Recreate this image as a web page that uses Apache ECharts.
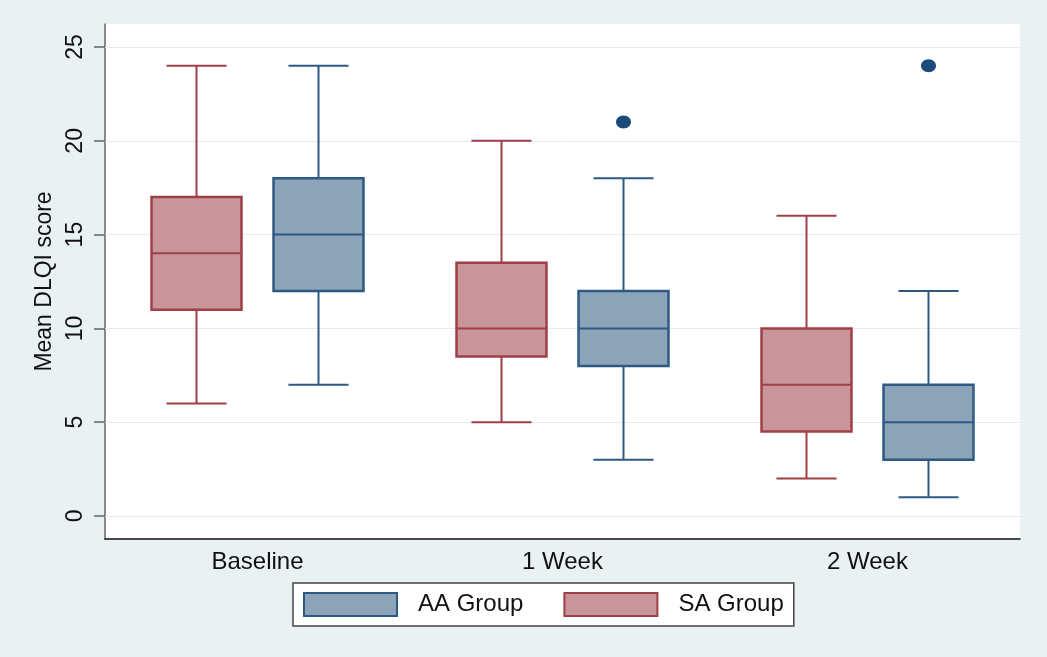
<!DOCTYPE html>
<html>
<head>
<meta charset="utf-8">
<script src="https://cdn.jsdelivr.net/npm/echarts@6/dist/echarts.min.js"></script>
<style>
html,body{margin:0;padding:0;background:#E9F1F2;}
#c{width:1047px;height:657px;}
</style>
</head>
<body>
<div id="c"></div>
<script>
var categories = ['Baseline', '1 Week', '2 Week'];
// [low whisker, Q1, median, Q3, high whisker]
var saGroup = [[6, 11, 14, 17, 24], [5, 8.5, 10, 13.5, 20], [2, 4.5, 7, 10, 16]];
var aaGroup = [[7, 12, 15, 18, 24], [3, 8, 10, 12, 18], [1, 3, 5, 7, 12]];
// outliers: [category index, value]
var aaOutliers = [[1, 21], [2, 24]];
var yTicks = [0, 5, 10, 15, 20, 25];

var FONT = 'Liberation Sans, Arial, sans-serif';
var SA_FILL = '#C8969A', SA_LINE = '#A03F48';
var AA_FILL = '#8DA3B7', AA_LINE = '#2D5985';
var OUT_COLOR = '#1B4B7A';

function boxRender(offsetFrac, fill, line) {
  return function (params, api) {
    var cat = api.value(0);
    var band = api.size([1, 0])[0];
    var off = band * offsetFrac;
    var bw = band * 0.295, cw = band * 0.197;
    var pLow = api.coord([cat, api.value(1)]);
    var pQ1 = api.coord([cat, api.value(2)]);
    var pMed = api.coord([cat, api.value(3)]);
    var pQ3 = api.coord([cat, api.value(4)]);
    var pHigh = api.coord([cat, api.value(5)]);
    var cx = pLow[0] + off;
    var ls = {stroke: line, lineWidth: 2};
    return {
      type: 'group',
      children: [
        {type: 'line', shape: {x1: cx, y1: pQ3[1], x2: cx, y2: pHigh[1]}, style: ls},
        {type: 'line', shape: {x1: cx, y1: pQ1[1], x2: cx, y2: pLow[1]}, style: ls},
        {type: 'line', shape: {x1: cx - cw / 2, y1: pHigh[1], x2: cx + cw / 2, y2: pHigh[1]}, style: ls},
        {type: 'line', shape: {x1: cx - cw / 2, y1: pLow[1], x2: cx + cw / 2, y2: pLow[1]}, style: ls},
        {type: 'rect', shape: {x: cx - bw / 2, y: pQ3[1], width: bw, height: pQ1[1] - pQ3[1]},
          style: {fill: fill, stroke: line, lineWidth: 2.5}},
        {type: 'line', shape: {x1: cx - bw / 2, y1: pMed[1], x2: cx + bw / 2, y2: pMed[1]}, style: ls}
      ]
    };
  };
}

function toRows(arr) {
  return arr.map(function (d, i) { return [i].concat(d); });
}

var chart = echarts.init(document.getElementById('c'));
chart.setOption({
  backgroundColor: '#E9F1F2',
  animation: false,
  textStyle: {fontFamily: FONT},
  grid: {left: 105, top: 24, width: 915, height: 515, show: true, backgroundColor: '#fff', borderWidth: 0},
  legend: {
    left: 293, top: 583,
    padding: [9, 10, 9, 10],
    itemWidth: 93, itemHeight: 23, itemGap: 40,
    backgroundColor: '#fff', borderColor: '#444', borderWidth: 1.5,
    selectedMode: false,
    textStyle: {fontFamily: FONT, fontSize: 24, color: '#111', padding: [0, 0, 0, 16]},
    data: [
      {name: 'AA Group', icon: 'rect', itemStyle: {color: AA_FILL, borderColor: AA_LINE, borderWidth: 2}},
      {name: 'SA Group', icon: 'rect', itemStyle: {color: SA_FILL, borderColor: SA_LINE, borderWidth: 2}}
    ]
  },
  xAxis: {
    type: 'category', data: categories, boundaryGap: true,
    axisLine: {onZero: false, lineStyle: {color: '#111', width: 1.5}},
    axisTick: {show: false},
    axisLabel: {fontFamily: FONT, fontSize: 24, color: '#111', margin: 11},
    splitLine: {show: false}
  },
  yAxis: {
    type: 'value', min: -1.23, max: 26.23,
    name: 'Mean DLQI score', nameLocation: 'middle', nameGap: 47,
    nameTextStyle: {fontFamily: FONT, fontSize: 23, color: '#111'},
    axisLine: {show: true, lineStyle: {color: '#666', width: 1.5}},
    axisTick: {show: true, length: 11, lineStyle: {color: '#666', width: 1.5}, customValues: yTicks},
    axisLabel: {rotate: 90, fontFamily: FONT, fontSize: 23, color: '#111', margin: 18, customValues: yTicks},
    splitLine: {show: false}
  },
  series: [
    {
      name: 'SA Group', type: 'custom', renderItem: boxRender(-0.2, SA_FILL, SA_LINE),
      encode: {x: 0, y: [1, 2, 3, 4, 5]}, data: toRows(saGroup), z: 3,
      itemStyle: {color: SA_FILL},
      markLine: {
        silent: true, symbol: 'none', z: 1, animation: false,
        label: {show: false},
        lineStyle: {color: '#E3EDF0', width: 1, type: 'solid'},
        data: yTicks.map(function (v) { return {yAxis: v}; })
      }
    },
    {
      name: 'AA Group', type: 'custom', renderItem: boxRender(0.2, AA_FILL, AA_LINE),
      encode: {x: 0, y: [1, 2, 3, 4, 5]}, data: toRows(aaGroup), z: 3,
      itemStyle: {color: AA_FILL}
    },
    {
      name: 'AA outliers', type: 'custom',
      renderItem: function (params, api) {
        var band = api.size([1, 0])[0];
        var p = api.coord([api.value(0), api.value(1)]);
        return {type: 'ellipse', shape: {cx: p[0] + band * 0.2, cy: p[1], rx: 7.5, ry: 6.5},
          style: {fill: OUT_COLOR}};
      },
      encode: {x: 0, y: 1}, data: aaOutliers, z: 4
    }
  ]
});
</script>
</body>
</html>
